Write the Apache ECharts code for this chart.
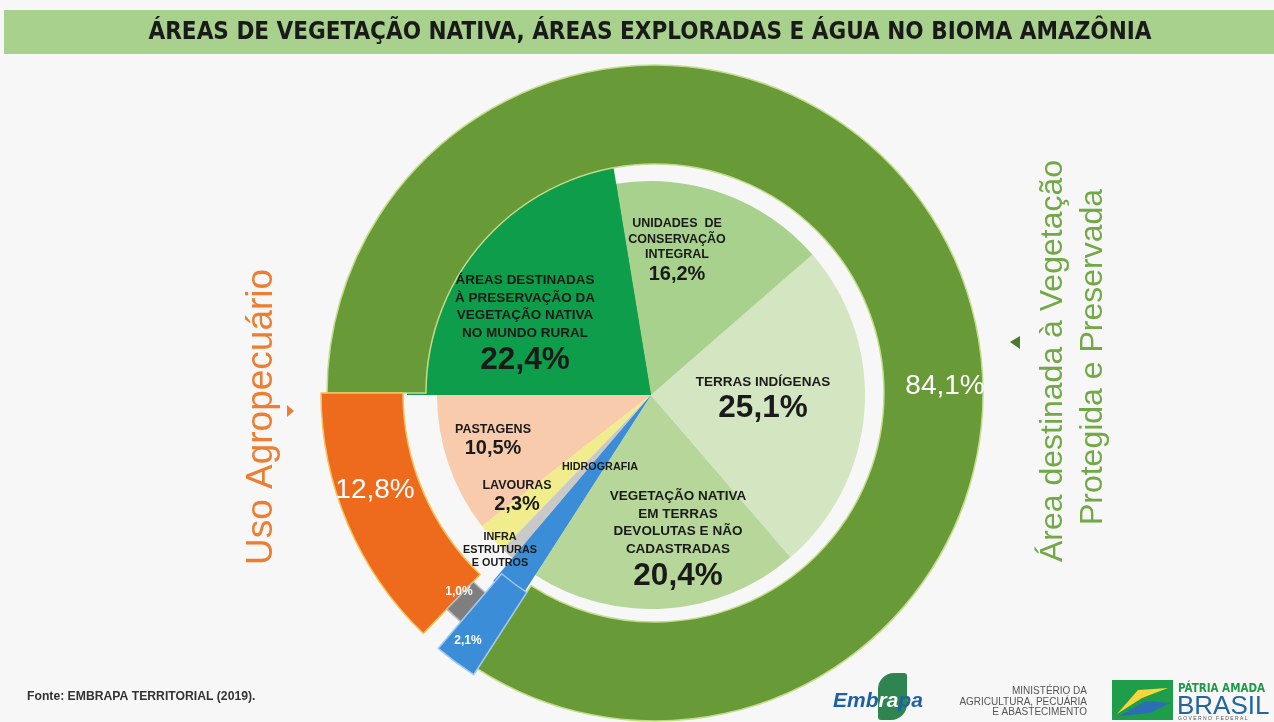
<!DOCTYPE html>
<html>
<head>
<meta charset="utf-8">
<title>Áreas de vegetação nativa, áreas exploradas e água no bioma Amazônia</title>
<script src="https://cdn.jsdelivr.net/npm/echarts@6/dist/echarts.min.js"></script>
<style>
html,body{margin:0;padding:0;background:#f7f7f7;}
#chart{width:1274px;height:722px;}
</style>
</head>
<body>
<div id="chart"></div>
<script>
// anel externo (uso do bioma, %)
var outerNames = ['Uso Agropecuário', 'Infraestruturas e outros', 'Hidrografia', 'Vegetação protegida e preservada'];
var outerValues = [12.8, 1.0, 2.1, 84.1];
// pizza interna (%)
var innerNames = ['PASTAGENS', 'LAVOURAS', 'INFRA\nESTRUTURAS\nE OUTROS', 'HIDROGRAFIA',
	'VEGETAÇÃO NATIVA\nEM TERRAS\nDEVOLUTAS E NÃO\nCADASTRADAS', 'TERRAS INDÍGENAS',
	'UNIDADES  DE\nCONSERVAÇÃO\nINTEGRAL', 'ÁREAS DESTINADAS\nÀ PRESERVAÇÃO DA\nVEGETAÇÃO NATIVA\nNO MUNDO RURAL'];
var innerValues = [10.5, 2.3, 1.0, 2.1, 20.4, 25.1, 16.2, 22.4];

var outerColors = ['#EE6B1E', '#7F7F7F', '#3A8DD6', '#689A38'];
var innerColors = ['#F8CBAD', '#F1EC8C', '#C9C9C9', '#3A8DD6', '#B7D69A', '#D4E5C2', '#A9D18E', '#0E9D4B'];

var innerCenter = [651, 395];
var ringCenter = [655, 393];

//posição dos rótulos em relação ao centro e estilo de cada um
var innerLabel = {};
innerLabel[innerNames[0]] = {at: [-158, 46], name: 'n11', pct: 'mid'};
innerLabel[innerNames[1]] = {at: [-134, 102], name: 'n11', pct: 'mid'};
innerLabel[innerNames[2]] = {at: [-151, 155], name: 'n10'};
innerLabel[innerNames[3]] = {at: [-51, 72], name: 'n10'};
innerLabel[innerNames[4]] = {at: [27, 146], name: 'n12', pct: 'big'};
innerLabel[innerNames[5]] = {at: [112, 5], name: 'n12', pct: 'big'};
innerLabel[innerNames[6]] = {at: [26, -144], name: 'n11', pct: 'mid'};
innerLabel[innerNames[7]] = {at: [-126, -70], name: 'n12', pct: 'big'};

var outerLabel = {};
outerLabel[outerNames[0]] = {at: [-280, 97], s: 'w28'};
outerLabel[outerNames[1]] = {at: [-196, 199], s: 'w12'};
outerLabel[outerNames[2]] = {at: [-187, 248], s: 'w12'};
outerLabel[outerNames[3]] = {at: [290, -7], s: 'w28'};

function pct(v){
	return v.toFixed(1).replace('.', ',') + '%';
}

function sliceData(names, values, colors, visible, border){
	return names.map(function(n, i){
		var on = visible.indexOf(n) > -1;
		return {
			name: n,
			value: values[i],
			itemStyle: {
				color: on ? colors[i] : 'rgba(0,0,0,0)',
				borderWidth: on && border ? 1.5 : 0,
				borderColor: border || 'rgba(0,0,0,0)'
			}
		};
	});
}

function layer(center, radius, data){
	return {
		type: 'pie',
		center: center,
		radius: radius,
		startAngle: 180,
		clockwise: false,
		silent: true,
		avoidLabelOverlap: false,
		label: {show: false},
		labelLine: {show: false},
		emphasis: {disabled: true},
		data: data
	};
}

var F = 'Liberation Sans';
var rich = {
	n12: {fontFamily: F, fontWeight: 'bold', fontSize: 13.5, lineHeight: 17.5, color: '#1a1a1a'},
	n11: {fontFamily: F, fontWeight: 'bold', fontSize: 12.5, lineHeight: 15.5, color: '#1a1a1a'},
	n10: {fontFamily: F, fontWeight: 'bold', fontSize: 10.8, lineHeight: 13, color: '#1a1a1a'},
	big: {fontFamily: F, fontWeight: 'bold', fontSize: 31.5, lineHeight: 36, color: '#1a1a1a'},
	mid: {fontFamily: F, fontWeight: 'bold', fontSize: 20, lineHeight: 23, color: '#1a1a1a'},
	w28: {fontFamily: F, fontSize: 28, lineHeight: 32, color: '#ffffff'},
	w12: {fontFamily: F, fontWeight: 'bold', fontSize: 12, lineHeight: 14, color: '#ffffff'}
};

//pizza interna: base, fatias que avançam sobre o anel e rótulos
var innerBase = layer(innerCenter, [0, 214], sliceData(innerNames, innerValues, innerColors, innerNames));
var innerExtra = layer(innerCenter, [0, 244], sliceData(innerNames, innerValues, innerColors, [innerNames[3], innerNames[7]]));
var innerText = layer(innerCenter, [0, 214], sliceData(innerNames, innerValues, innerColors, []));
innerText.label = {
	show: true,
	position: 'inside',
	textBorderWidth: 0,
	rich: rich,
	formatter: function(p){
		var c = innerLabel[p.name];
		var lines = p.name.split('\n').map(function(t){
			return '{' + c.name + '|' + t + '}';
		});
		if(c.pct){
			lines.push('{' + c.pct + '|' + pct(p.value) + '}');
		}
		return lines.join('\n');
	}
};
innerText.labelLayout = function(p){
	var c = innerLabel[innerNames[p.dataIndex]];
	return {x: innerCenter[0] + c.at[0], y: innerCenter[1] + c.at[1], align: 'center', verticalAlign: 'middle'};
};

//anel externo: cada segmento com o seu raio
var ringGreen = layer(ringCenter, [229, 328], sliceData(outerNames, outerValues, outerColors, [outerNames[3]], '#C3DC8A'));
var ringOrange = layer(ringCenter, [252, 334], sliceData(outerNames, outerValues, outerColors, [outerNames[0]], '#F3C35A'));
var ringGrey = layer(ringCenter, [262, 300], sliceData(outerNames, outerValues, outerColors, [outerNames[1]], '#BDBDBD'));
var ringBlue = layer(ringCenter, [237, 335], sliceData(outerNames, outerValues, outerColors, [outerNames[2]], '#9CC7EE'));
var ringText = layer(ringCenter, [229, 328], sliceData(outerNames, outerValues, outerColors, []));
ringText.label = {
	show: true,
	position: 'inside',
	textBorderWidth: 0,
	rich: rich,
	formatter: function(p){
		return '{' + outerLabel[p.name].s + '|' + pct(p.value) + '}';
	}
};
ringText.labelLayout = function(p){
	var c = outerLabel[outerNames[p.dataIndex]];
	return {x: ringCenter[0] + c.at[0], y: ringCenter[1] + c.at[1], align: 'center', verticalAlign: 'middle'};
};

var chart = echarts.init(document.getElementById('chart'));
chart.setOption({
	backgroundColor: '#f7f7f7',
	animation: false,
	series: [innerBase, innerExtra, ringGreen, ringOrange, ringGrey, ringBlue, innerText, ringText],
	graphic: [
		//faixa do título
		{type: 'rect', shape: {x: 4, y: 10, width: 1270, height: 44}, style: {fill: '#A9D18E'}, z: 0},
		{type: 'text', x: 650, y: 33, style: {
			text: 'ÁREAS DE VEGETAÇÃO NATIVA, ÁREAS EXPLORADAS E ÁGUA NO BIOMA AMAZÔNIA',
			font: 'bold 24px "DejaVu Sans Condensed", sans-serif',
			fill: '#1a1a1a', align: 'center', verticalAlign: 'middle'
		}},
		//textos laterais
		{type: 'text', x: 262, y: 417, rotation: Math.PI / 2, style: {
			text: 'Uso Agropecuário', font: '37px "Liberation Sans", sans-serif',
			fill: '#ED7D31', align: 'center', verticalAlign: 'middle'
		}},
		{type: 'polygon', shape: {points: [[287, 405], [294, 411], [287, 417]]}, style: {fill: '#ED7D31'}},
		{type: 'text', x: 1053, y: 361, rotation: Math.PI / 2, style: {
			text: 'Área destinada à Vegetação', font: '32px "Liberation Sans", sans-serif',
			fill: '#72A946', align: 'center', verticalAlign: 'middle'
		}},
		{type: 'text', x: 1093, y: 357, rotation: Math.PI / 2, style: {
			text: 'Protegida e Preservada', font: '32px "Liberation Sans", sans-serif',
			fill: '#72A946', align: 'center', verticalAlign: 'middle'
		}},
		{type: 'polygon', shape: {points: [[1010, 342], [1020, 336], [1020, 349]]}, style: {fill: '#4E7A2E'}},
		//rodapé
		{type: 'text', x: 27, y: 697, style: {
			text: 'Fonte: EMBRAPA TERRITORIAL (2019).',
			font: 'bold 12.2px "Liberation Sans", sans-serif',
			fill: '#333333', align: 'left', verticalAlign: 'middle'
		}},
		{type: 'rect', shape: {x: 878, y: 673, width: 29, height: 47, r: [16, 3, 16, 3]}, style: {fill: '#2F8550'}},
		{type: 'text', x: 833, y: 701, style: {
			text: '{b|Emb}{w|ra}{b|pa}', align: 'left', verticalAlign: 'middle',
			rich: {
				b: {font: 'italic bold 21px "Liberation Sans", sans-serif', fill: '#1E5FA6'},
				w: {font: 'italic bold 21px "Liberation Sans", sans-serif', fill: '#ffffff'}
			}
		}},
		{type: 'text', x: 1087, y: 702, style: {
			text: 'MINISTÉRIO DA\nAGRICULTURA, PECUÁRIA\nE ABASTECIMENTO',
			font: '10px "Liberation Sans", sans-serif', lineHeight: 10.5,
			fill: '#555555', align: 'right', verticalAlign: 'middle'
		}},
		{type: 'rect', shape: {x: 1112, y: 680, width: 61, height: 40}, style: {fill: '#1E9E4A'}},
		{type: 'polygon', shape: {points: [[1117, 714], [1138, 690], [1168, 688], [1142, 698]]}, style: {fill: '#F6D63A'}},
		{type: 'polygon', shape: {points: [[1119, 716], [1146, 701], [1170, 703], [1150, 713]]}, style: {fill: '#2C6DB5'}},
		{type: 'text', x: 1178, y: 689, style: {
			text: 'PÁTRIA AMADA', font: 'bold 11.5px "DejaVu Sans Condensed", sans-serif',
			fill: '#1F9A48', align: 'left', verticalAlign: 'middle'
		}},
		{type: 'text', x: 1177, y: 707, style: {
			text: 'BRASIL', font: '26px "Liberation Sans", sans-serif',
			fill: '#23669F', align: 'left', verticalAlign: 'middle'
		}},
		{type: 'text', x: 1178, y: 719, style: {
			text: 'G O V E R N O   F E D E R A L', font: '5px "Liberation Sans", sans-serif',
			fill: '#555555', align: 'left', verticalAlign: 'middle'
		}}
	]
});
</script>
</body>
</html>
